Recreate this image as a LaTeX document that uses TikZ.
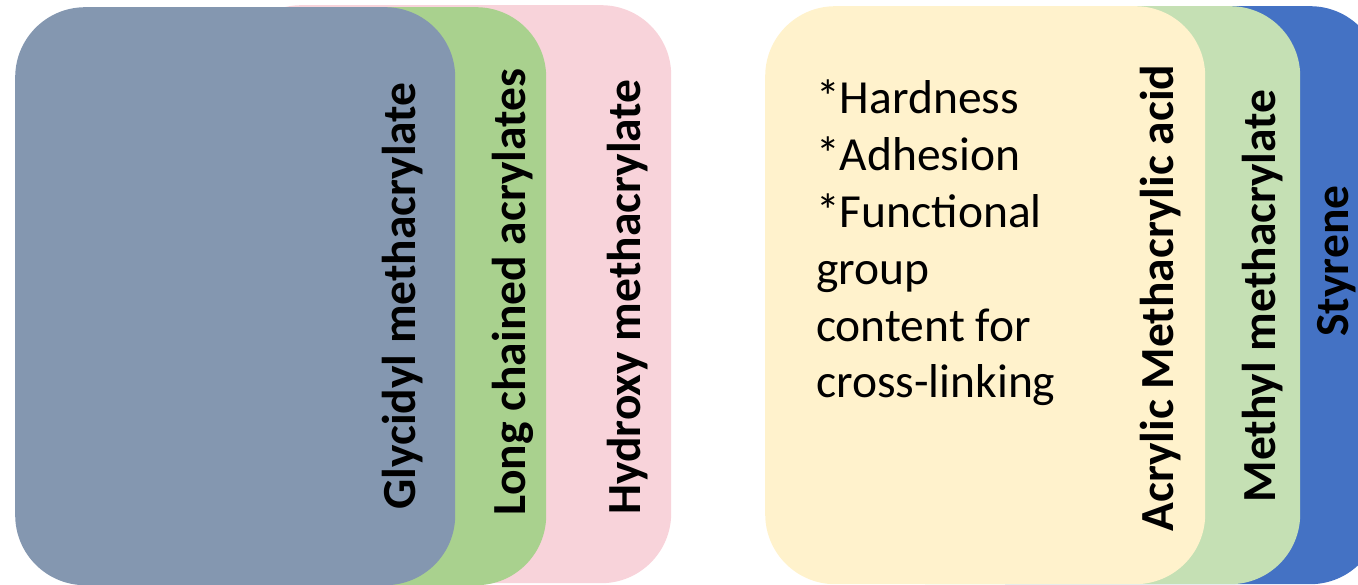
\documentclass[tikz,border=0pt]{standalone}
\usepackage{fontspec}
\setmainfont{Carlito}
\definecolor{cGray}{HTML}{8497B0}
\definecolor{cGreenA}{HTML}{A9D18E}
\definecolor{cPink}{HTML}{F8D3DA}
\definecolor{cYellow}{HTML}{FFF2CC}
\definecolor{cGreenB}{HTML}{C5E0B4}
\definecolor{cBlue}{HTML}{4472C4}
\tikzset{
  panel/.style={rectangle, rounded corners=70pt, inner sep=0pt, draw=none,
    minimum width=440pt, minimum height=578pt, anchor=north west},
  vlabel/.style={rotate=90, anchor=base, inner sep=0pt,
    font=\fontsize{47.5}{57}\selectfont\bfseries},
  listtext/.style={anchor=base west, inner sep=0pt, align=left,
    font=\fontsize{47.5}{57}\selectfont}
}
\begin{document}
\begin{tikzpicture}[x=1pt, y=-1pt]
\useasboundingbox (0,0) rectangle (1358,585);
\clip (0,0) rectangle (1358,585);
% left group
\node[panel, fill=cPink]   (pink)  at (231,5) {};
\node[panel, fill=cGreenA] (green) at (106,7) {};
\node[panel, fill=cGray]   (gray)  at (15,7) {};
% right group
\node[panel, fill=cBlue]   (blue)   at (940,6) {};
\node[panel, fill=cGreenB] (greenb) at (860,6) {};
\node[panel, fill=cYellow] (yellow) at (765,6) {};
% labels
\node[vlabel] (tg) at (415,296) {Glycidyl methacrylate};
\node[vlabel] (tl) at (525,292) {Long chained acrylates};
\node[vlabel] (th) at (640,297) {Hydroxy methacrylate};
\node[vlabel] (ta) at (1173,298) {Acrylic Methacrylic acid};
\node[vlabel] (tm) at (1275,296) {Methyl methacrylate};
\node[vlabel] (ts) at (1348,261) {Styrene};
\node[listtext] (list) at (816,398) {*Hardness\\*Adhesion\\*Functional\\group\\content for\\cross-linking};
\end{tikzpicture}
\end{document}
